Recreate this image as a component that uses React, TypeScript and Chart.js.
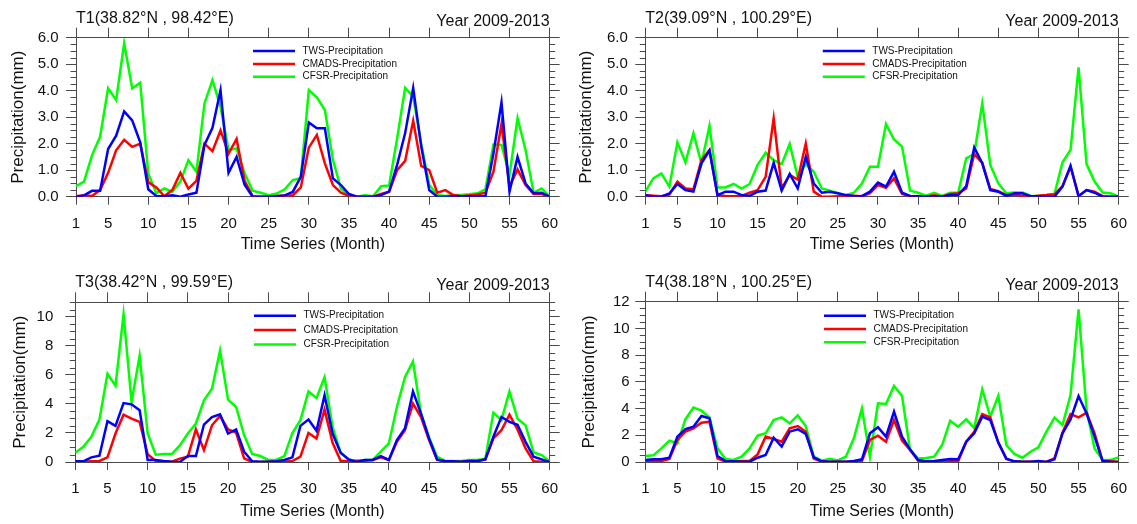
import React, { useEffect, useRef } from "react";
import { Chart, registerables } from "chart.js";

Chart.register(...registerables);

// ---------------- data ----------------
const months = Array.from({ length: 60 }, (_, i) => i + 1);
const monthTicks = [1, 5, 10, 15, 20, 25, 30, 35, 40, 45, 50, 55, 60];
const yTicksT1 = [0, 1, 2, 3, 4, 5, 6];
const yTicksT2 = [0, 1, 2, 3, 4, 5, 6];
const yTicksT3 = [0, 2, 4, 6, 8, 10];
const yTicksT4 = [0, 2, 4, 6, 8, 10, 12];

const seriesNames = ["TWS-Precipitation", "CMADS-Precipitation", "CFSR-Precipitation"];
const panelTitles = [
  "T1(38.82°N , 98.42°E)",
  "T2(39.09°N , 100.29°E)",
  "T3(38.42°N , 99.59°E)",
  "T4(38.18°N , 100.25°E)",
];
const periodLabel = "Year 2009-2013";
const yAxisTitle = "Precipitation(mm)";
const xAxisTitle = "Time Series (Month)";

const t1Tws = [
  0.0, 0.05, 0.22, 0.22, 1.8, 2.3, 3.22, 2.88, 2.05, 0.28,
  0.03, 0.02, 0.05, 0.0, 0.08, 0.15, 1.95, 2.6, 4.02, 0.9,
  1.5, 0.45, 0.0, 0.0, 0.0, 0.02, 0.05, 0.18, 0.75, 2.8,
  2.58, 2.58, 0.69, 0.44, 0.1, 0.0, 0.0, 0.0, 0.06, 0.19,
  1.2, 2.4, 4.1, 1.9, 0.25, 0.0, 0.0, 0.02, 0.02, 0.02,
  0.02, 0.02, 1.64, 3.56, 0.19, 1.5, 0.5, 0.13, 0.15, 0.0,
];
const t1Cmads = [
  0.02, 0.05, 0.03, 0.25, 0.9, 1.75, 2.15, 1.88, 2.0, 0.55,
  0.35, 0.02, 0.25, 0.9, 0.3, 0.6, 2.0, 1.72, 2.5, 1.62,
  2.18, 0.6, 0.02, 0.0, 0.0, 0.03, 0.05, 0.05, 0.35, 1.85,
  2.33, 1.26, 0.44, 0.15, 0.03, 0.0, 0.0, 0.0, 0.1, 0.19,
  1.0, 1.35, 2.87, 1.16, 1.0, 0.15, 0.25, 0.06, 0.02, 0.05,
  0.08, 0.15, 0.94, 2.74, 0.38, 1.03, 0.44, 0.1, 0.1, 0.0,
];
const t1Cfsr = [
  0.4, 0.57, 1.57, 2.26, 4.09, 3.65, 5.79, 4.09, 4.3, 0.88,
  0.13, 0.31, 0.19, 0.57, 1.38, 0.94, 3.52, 4.4, 3.4, 1.76,
  1.82, 0.88, 0.23, 0.15, 0.06, 0.12, 0.28, 0.63, 0.7, 4.02,
  3.75, 3.27, 1.4, 0.3, 0.05, 0.0, 0.05, 0.02, 0.4, 0.42,
  2.2, 4.11, 3.77, 2.0, 0.45, 0.06, 0.03, 0.06, 0.06, 0.09,
  0.13, 0.28, 1.97, 1.95, 0.82, 2.96, 1.76, 0.15, 0.31, 0.0,
];

const t2Tws = [
  0.06, 0.0, 0.0, 0.12, 0.48, 0.25, 0.19, 1.26, 1.74, 0.06,
  0.19, 0.19, 0.06, 0.03, 0.19, 0.23, 1.28, 0.23, 0.86, 0.31,
  1.5, 0.5, 0.15, 0.19, 0.13, 0.06, 0.03, 0.02, 0.19, 0.53,
  0.38, 0.94, 0.15, 0.03, 0.02, 0.0, 0.02, 0.0, 0.06, 0.06,
  0.4, 1.86, 1.26, 0.25, 0.19, 0.03, 0.13, 0.13, 0.02, 0.02,
  0.0, 0.0, 0.38, 1.17, 0.02, 0.25, 0.15, 0.0, 0.0, 0.0,
];
const t2Cmads = [
  0.06, 0.04, 0.02, 0.08, 0.57, 0.31, 0.28, 1.38, 1.76, 0.06,
  0.03, 0.02, 0.03, 0.15, 0.25, 0.75, 2.96, 0.31, 0.82, 0.65,
  2.01, 0.19, 0.0, 0.0, 0.02, 0.03, 0.04, 0.02, 0.13, 0.44,
  0.34, 0.69, 0.1, 0.02, 0.02, 0.0, 0.05, 0.0, 0.1, 0.13,
  0.31, 1.61, 1.28, 0.29, 0.21, 0.06, 0.08, 0.03, 0.0, 0.04,
  0.06, 0.09, 0.4, 1.13, 0.03, 0.25, 0.19, 0.02, 0.0, 0.0,
];
const t2Cfsr = [
  0.19, 0.69, 0.88, 0.38, 2.05, 1.3, 2.39, 1.26, 2.67, 0.35,
  0.35, 0.48, 0.31, 0.48, 1.2, 1.66, 1.38, 1.23, 1.99, 0.75,
  1.23, 0.94, 0.31, 0.23, 0.13, 0.06, 0.15, 0.5, 1.13, 1.13,
  2.74, 2.16, 1.89, 0.23, 0.15, 0.04, 0.15, 0.03, 0.15, 0.15,
  1.45, 1.61, 3.52, 1.2, 0.5, 0.13, 0.16, 0.16, 0.04, 0.03,
  0.06, 0.1, 1.3, 1.76, 4.88, 1.23, 0.57, 0.16, 0.13, 0.0,
];

const t3Tws = [
  0.05, 0.05, 0.32, 0.43, 2.81, 2.49, 4.06, 3.97, 3.56, 0.14,
  0.14, 0.07, 0.02, 0.0, 0.41, 0.41, 2.58, 3.1, 3.29, 1.96,
  2.24, 0.71, 0.05, 0.02, 0.02, 0.05, 0.14, 0.32, 2.49, 2.92,
  2.15, 4.59, 1.96, 0.64, 0.18, 0.0, 0.14, 0.14, 0.41, 0.14,
  1.51, 2.31, 4.86, 3.33, 1.62, 0.18, 0.05, 0.05, 0.02, 0.07,
  0.07, 0.18, 1.74, 3.1, 2.76, 2.56, 1.39, 0.37, 0.18, 0.0,
];
const t3Cmads = [
  0.05, 0.02, 0.05, 0.07, 0.32, 1.96, 3.26, 2.99, 2.76, 0.53,
  0.07, 0.02, 0.02, 0.23, 0.37, 2.24, 0.82, 2.53, 3.17, 2.24,
  2.03, 0.25, 0.0, 0.0, 0.02, 0.02, 0.02, 0.07, 0.37, 2.0,
  1.62, 3.61, 1.32, 0.09, 0.05, 0.09, 0.09, 0.14, 0.32, 0.14,
  1.39, 2.19, 4.02, 3.1, 1.51, 0.14, 0.05, 0.0, 0.02, 0.07,
  0.05, 0.18, 1.62, 2.19, 3.26, 2.24, 0.94, 0.05, 0.02, 0.0,
];
const t3Cfsr = [
  0.64, 1.05, 1.74, 2.92, 6.07, 5.25, 10.18, 4.13, 7.33, 1.96,
  0.5, 0.55, 0.55, 1.14, 1.96, 2.65, 4.25, 5.05, 7.67, 4.29,
  3.79, 1.85, 0.55, 0.41, 0.14, 0.14, 0.41, 2.0, 2.88, 4.86,
  4.41, 5.84, 2.42, 0.64, 0.18, 0.05, 0.14, 0.14, 0.71, 1.28,
  3.79, 5.84, 6.92, 3.33, 1.69, 0.37, 0.07, 0.07, 0.07, 0.14,
  0.14, 0.23, 3.4, 2.88, 4.86, 2.99, 2.53, 0.66, 0.48, 0.05,
];

const t4Tws = [
  0.15, 0.2, 0.2, 0.32, 1.9, 2.47, 2.64, 3.44, 3.27, 0.45,
  0.07, 0.05, 0.02, 0.02, 0.32, 0.52, 1.82, 1.15, 2.27, 2.45,
  2.1, 0.35, 0.05, 0.02, 0.02, 0.02, 0.07, 0.2, 2.15, 2.6,
  1.9, 3.77, 1.9, 0.95, 0.15, 0.05, 0.07, 0.15, 0.22, 0.2,
  1.52, 2.15, 3.39, 3.14, 1.45, 0.25, 0.05, 0.02, 0.02, 0.07,
  0.0, 0.2, 2.15, 3.19, 4.94, 3.64, 1.9, 0.07, 0.02, 0.0,
];
const t4Cmads = [
  0.05, 0.1, 0.07, 0.22, 1.65, 2.27, 2.52, 2.94, 3.02, 0.27,
  0.02, 0.02, 0.07, 0.07, 0.57, 1.9, 1.72, 1.52, 2.52, 2.69,
  2.27, 0.25, 0.02, 0.02, 0.02, 0.02, 0.02, 0.07, 1.65, 1.97,
  1.52, 3.14, 1.6, 0.9, 0.1, 0.0, 0.0, 0.02, 0.05, 0.05,
  1.52, 2.27, 3.59, 3.34, 1.45, 0.22, 0.05, 0.02, 0.02, 0.02,
  0.02, 0.27, 2.2, 3.59, 3.34, 3.69, 2.15, 0.07, 0.07, 0.0,
];
const t4Cfsr = [
  0.45, 0.5, 1.02, 1.6, 1.4, 3.19, 4.07, 3.84, 3.34, 1.02,
  0.22, 0.15, 0.4, 1.02, 1.97, 2.15, 3.14, 3.34, 2.89, 3.49,
  2.69, 0.4, 0.1, 0.25, 0.12, 0.4, 1.77, 4.02, 0.4, 4.39,
  4.34, 5.69, 4.94, 0.9, 0.27, 0.3, 0.4, 1.27, 3.09, 2.64,
  3.19, 2.54, 5.44, 3.39, 4.96, 1.27, 0.6, 0.32, 0.77, 1.1,
  2.27, 3.32, 2.77, 5.01, 11.42, 3.89, 1.02, 0.15, 0.15, 0.35,
];

// ---------------- styles / layout ----------------
const FONT = "'Liberation Sans', Arial, Helvetica, sans-serif";
const AXIS_COLOR = "#4a4a4a";
const LINE_COLORS = ["#0000ff", "#ff0000", "#00ff00"];

type Geom = {
  x: number; y: number; w: number; h: number;
  left: number; right: number; top: number; bottom: number;
  yMax: number; minorStep: number; yDecimals: number;
  legendX: number; legendRows: number[];
  yLabelPad: number; yTitlePad: number; xTitlePad: number;
};

const GEOMS: Geom[] = [
  { x: 0, y: 0, w: 568, h: 262, left: 76, right: 553, top: 37.7, bottom: 196.7, yMax: 6, minorStep: 0.25, yDecimals: 1,
    legendX: 177, legendRows: [13.3, 26.3, 39], yLabelPad: 7.5, yTitlePad: 7.8, xTitlePad: 7.4 },
  { x: 568, y: 0, w: 569, h: 262, left: 77.3, right: 554.3, top: 37.7, bottom: 196.7, yMax: 6, minorStep: 0.25, yDecimals: 1,
    legendX: 177.5, legendRows: [13.3, 26.3, 39], yLabelPad: 7.5, yTitlePad: 8.1, xTitlePad: 7.4 },
  { x: 0, y: 262, w: 568, h: 262, left: 75.3, right: 555.7, top: 40.3, bottom: 200, yMax: 11, minorStep: 0.5, yDecimals: 0,
    legendX: 178.7, legendRows: [13.4, 27.7, 42.3], yLabelPad: 12, yTitlePad: 9.8, xTitlePad: 2.9 },
  { x: 568, y: 262, w: 569, h: 262, left: 77.3, right: 558.3, top: 39.7, bottom: 200, yMax: 12, minorStep: 0.5, yDecimals: 0,
    legendX: 178.7, legendRows: [14, 27.3, 40.6], yLabelPad: 5.6, yTitlePad: 11.5, xTitlePad: 2.9 },
];

const PANEL_SERIES = [
  [t1Tws, t1Cmads, t1Cfsr],
  [t2Tws, t2Cmads, t2Cfsr],
  [t3Tws, t3Cmads, t3Cfsr],
  [t4Tws, t4Cmads, t4Cfsr],
];
const PANEL_YTICKS = [yTicksT1, yTicksT2, yTicksT3, yTicksT4];

// ---------------- plugins ----------------
const minorTicksPlugin = {
  id: "minorTicks",
  afterDraw(chart: any, _args: any, opts: any) {
    const s = chart.scales.y;
    const { left, right } = chart.chartArea;
    const ctx = chart.ctx;
    const majors: number[] = opts.majors || [];
    const n = Math.round((s.max - s.min) / opts.step);
    ctx.save();
    ctx.strokeStyle = AXIS_COLOR;
    ctx.lineWidth = 1;
    for (let k = 0; k <= n; k++) {
      const v = s.min + k * opts.step;
      if (majors.some((m) => Math.abs(m - v) < 1e-6)) continue;
      const y = Math.round(s.getPixelForValue(v)) + 0.5;
      ctx.beginPath();
      ctx.moveTo(left - 5.5, y);
      ctx.lineTo(left, y);
      ctx.moveTo(right, y);
      ctx.lineTo(right + 5.5, y);
      ctx.stroke();
    }
    ctx.restore();
  },
};

const panelTextPlugin = {
  id: "panelText",
  afterDraw(chart: any, _args: any, opts: any) {
    const { left, right, top } = chart.chartArea;
    const ctx = chart.ctx;
    ctx.save();
    ctx.fillStyle = "#111";
    ctx.font = `16px ${FONT}`;
    ctx.textBaseline = "alphabetic";
    ctx.textAlign = "left";
    ctx.fillText(opts.title, left, top - 15);
    ctx.textAlign = "right";
    ctx.fillText(opts.period, right, top - 12);

    // legend
    const datasets = chart.data.datasets;
    ctx.font = `10px ${FONT}`;
    ctx.textAlign = "left";
    ctx.textBaseline = "middle";
    datasets.forEach((ds: any, i: number) => {
      const y = top + opts.rows[i];
      const x0 = left + opts.x;
      ctx.strokeStyle = ds.borderColor;
      ctx.lineWidth = 2.5;
      ctx.beginPath();
      ctx.moveTo(x0, y);
      ctx.lineTo(x0 + 42, y);
      ctx.stroke();
      ctx.fillStyle = "#111";
      ctx.fillText(ds.label, x0 + 49.5, y);
    });
    ctx.restore();
  },
};

function Panel({ index }: { index: number }) {
  const ref = useRef<HTMLCanvasElement | null>(null);
  const g = GEOMS[index];

  useEffect(() => {
    if (!ref.current) return;
    const series = PANEL_SERIES[index];
    const yTicks = PANEL_YTICKS[index];
    const majorTicks = (s: any) => { s.ticks = monthTicks.map((v) => ({ value: v })); };
    const yMajorTicks = (s: any) => { s.ticks = yTicks.map((v) => ({ value: v })); };

    const gridOpts = (len: number) => ({
      display: true,
      drawOnChartArea: false,
      drawTicks: true,
      tickLength: len,
      color: AXIS_COLOR,
      lineWidth: 1,
    });
    const borderOpts = { display: true, color: AXIS_COLOR, width: 1 };

    const chart = new Chart(ref.current, {
      type: "line",
      data: {
        datasets: series.map((vals, i) => ({
          label: seriesNames[i],
          data: vals.map((v, j) => ({ x: months[j], y: v })),
          borderColor: LINE_COLORS[i],
          backgroundColor: LINE_COLORS[i],
          borderWidth: 2.5,
          pointRadius: 0,
          tension: 0,
          fill: false,
        })),
      },
      options: {
        responsive: false,
        animation: false,
        events: [],
        layout: { padding: { left: 0, top: g.top, right: g.w - g.right, bottom: 0 } },
        plugins: {
          legend: { display: false },
          tooltip: { enabled: false },
          title: { display: false },
          minorTicks: { step: g.minorStep, majors: yTicks },
          panelText: { title: panelTitles[index], period: periodLabel, x: g.legendX, rows: g.legendRows },
        } as any,
        scales: {
          x: {
            type: "linear",
            position: "bottom",
            min: 1,
            max: 60,
            afterBuildTicks: majorTicks,
            afterFit: (s: any) => { s.height = g.h - g.bottom; },
            ticks: {
              autoSkip: false,
              maxRotation: 0,
              padding: 10,
              color: "#111",
              font: { family: FONT, size: 15 },
              callback: (v: any) => String(v),
            },
            grid: gridOpts(8),
            border: borderOpts,
            title: {
              display: true,
              text: xAxisTitle,
              color: "#111",
              font: { family: FONT, size: 16 },
              padding: { top: 0, bottom: g.xTitlePad },
            },
          },
          x2: {
            type: "linear",
            position: "top",
            min: 1,
            max: 60,
            afterBuildTicks: majorTicks,
            afterFit: (s: any) => { s.height = 0; },
            ticks: { display: false },
            grid: gridOpts(10),
            border: borderOpts,
          },
          y: {
            type: "linear",
            position: "left",
            min: 0,
            max: g.yMax,
            afterBuildTicks: yMajorTicks,
            afterFit: (s: any) => { s.width = g.left; },
            ticks: {
              padding: g.yLabelPad,
              color: "#111",
              font: { family: FONT, size: 15 },
              callback: (v: any) => Number(v).toFixed(g.yDecimals),
            },
            grid: gridOpts(10),
            border: borderOpts,
            title: {
              display: true,
              text: yAxisTitle,
              color: "#111",
              font: { family: FONT, size: 17 },
              padding: { top: g.yTitlePad, bottom: 0 },
            },
          },
          y2: {
            type: "linear",
            position: "right",
            min: 0,
            max: g.yMax,
            afterBuildTicks: yMajorTicks,
            afterFit: (s: any) => { s.width = 0; },
            ticks: { display: false },
            grid: gridOpts(10),
            border: borderOpts,
          },
        },
      },
      plugins: [minorTicksPlugin, panelTextPlugin],
    } as any);

    return () => chart.destroy();
  }, [index]);

  return (
    <canvas
      ref={ref}
      width={g.w}
      height={g.h}
      style={{ position: "absolute", left: g.x, top: g.y, width: g.w, height: g.h }}
    />
  );
}

export default function App() {
  useEffect(() => {
    document.body.style.margin = "0";
    document.body.style.background = "#ffffff";
  }, []);
  return (
    <div style={{ position: "relative", width: 1137, height: 524, background: "#fff", overflow: "hidden" }}>
      {GEOMS.map((_, i) => (
        <Panel key={i} index={i} />
      ))}
    </div>
  );
}
